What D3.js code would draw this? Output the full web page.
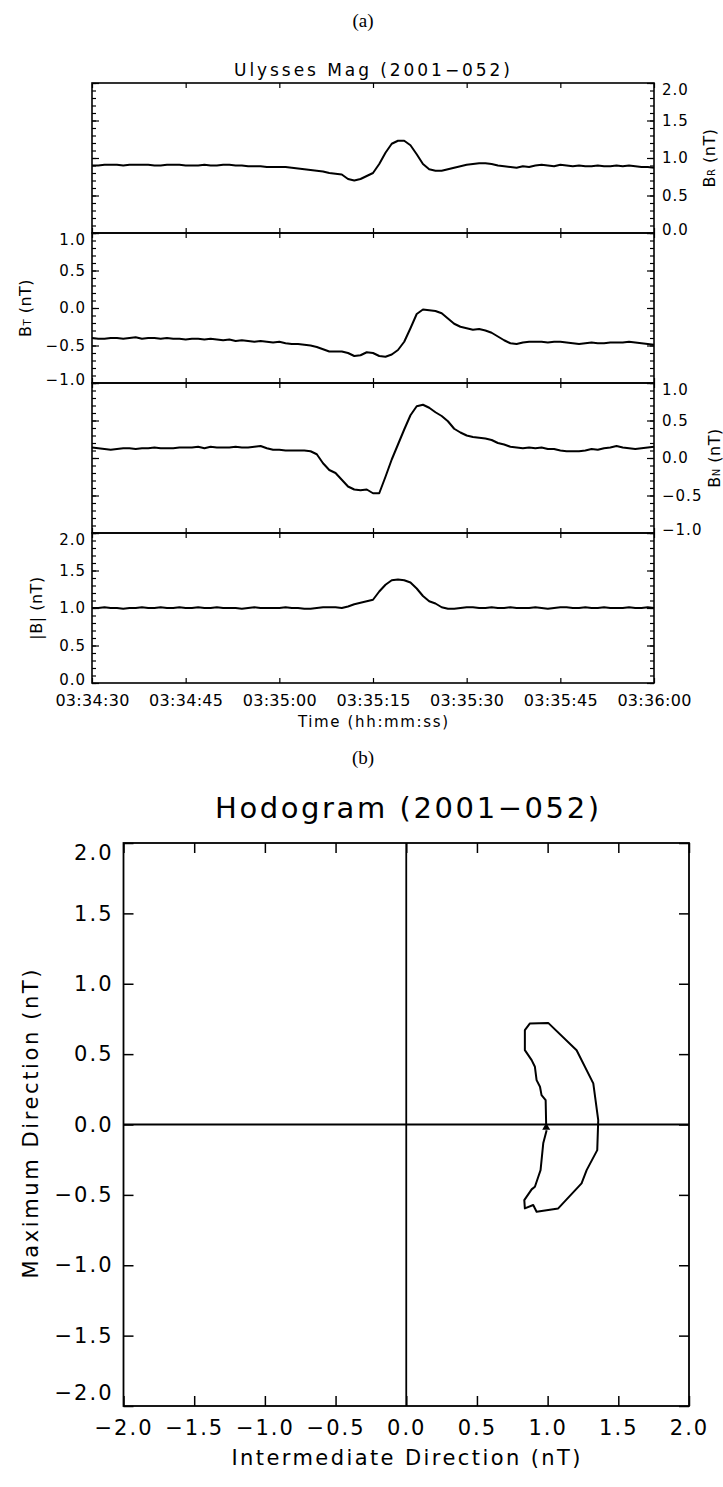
<!DOCTYPE html>
<html>
<head>
<meta charset="utf-8">
<script src="https://cdn.jsdelivr.net/npm/d3@7"></script>
<style>
  html, body { margin: 0; padding: 0; background: #fff; }
  svg { display: block; }
  text { font-family: "DejaVu Sans", sans-serif; fill: #000; }
</style>
</head>
<body>
<script>
// ---------------- DATA ----------------
// time-series panel (a): samples every 1 s from 03:34:30 to 03:36:00
const startTime = "03:34:30";
const tickSeconds = [0, 15, 30, 45, 60, 75, 90];
const timeTickLabels = ["03:34:30", "03:34:45", "03:35:00", "03:35:15", "03:35:30", "03:35:45", "03:36:00"];

const bR = [0.90,0.90,0.91,0.91,0.91,0.90,0.91,0.91,0.91,0.91,
            0.90,0.90,0.91,0.91,0.91,0.90,0.90,0.90,0.91,0.90,
            0.90,0.91,0.91,0.90,0.90,0.89,0.89,0.89,0.88,0.88,
            0.88,0.88,0.87,0.86,0.85,0.84,0.83,0.82,0.80,0.79,
            0.78,0.72,0.70,0.72,0.76,0.80,0.92,1.07,1.19,1.23,
            1.23,1.17,1.05,0.92,0.85,0.83,0.83,0.85,0.87,0.89,
            0.91,0.92,0.93,0.93,0.92,0.90,0.89,0.88,0.87,0.89,
            0.88,0.90,0.91,0.90,0.89,0.91,0.90,0.89,0.90,0.89,
            0.89,0.90,0.89,0.89,0.90,0.89,0.90,0.89,0.88,0.88,0.87];

const bT = [-0.40,-0.41,-0.41,-0.40,-0.40,-0.41,-0.40,-0.39,-0.41,-0.40,
            -0.40,-0.41,-0.40,-0.41,-0.41,-0.42,-0.41,-0.41,-0.42,-0.41,
            -0.42,-0.43,-0.42,-0.44,-0.43,-0.44,-0.45,-0.44,-0.45,-0.46,
            -0.45,-0.47,-0.48,-0.48,-0.49,-0.50,-0.52,-0.55,-0.58,-0.58,
            -0.58,-0.60,-0.64,-0.63,-0.59,-0.60,-0.64,-0.65,-0.62,-0.56,
            -0.45,-0.27,-0.08,-0.02,-0.03,-0.04,-0.07,-0.14,-0.21,-0.25,
            -0.27,-0.29,-0.28,-0.30,-0.33,-0.38,-0.43,-0.47,-0.48,-0.46,
            -0.45,-0.45,-0.45,-0.46,-0.45,-0.45,-0.46,-0.47,-0.48,-0.47,
            -0.46,-0.47,-0.47,-0.46,-0.46,-0.46,-0.45,-0.46,-0.47,-0.48,-0.49];

const bN = [0.14,0.13,0.12,0.11,0.12,0.13,0.13,0.12,0.13,0.13,
            0.14,0.13,0.13,0.13,0.14,0.14,0.14,0.15,0.13,0.15,
            0.14,0.14,0.14,0.15,0.14,0.14,0.15,0.16,0.13,0.11,
            0.11,0.10,0.10,0.10,0.10,0.09,0.05,-0.07,-0.16,-0.20,
            -0.29,-0.38,-0.42,-0.43,-0.42,-0.47,-0.47,-0.25,-0.02,0.18,
            0.38,0.57,0.69,0.71,0.67,0.61,0.56,0.49,0.39,0.34,
            0.30,0.28,0.27,0.26,0.24,0.20,0.18,0.15,0.14,0.13,
            0.14,0.13,0.14,0.12,0.12,0.10,0.09,0.09,0.09,0.10,
            0.12,0.11,0.13,0.14,0.16,0.14,0.13,0.12,0.13,0.14,0.15];

const bMag = [1.00,1.00,1.01,1.00,1.00,0.99,1.00,1.00,1.01,1.00,
              1.00,1.01,1.00,1.00,1.01,1.00,1.00,1.01,1.00,1.00,
              1.01,1.00,1.00,1.00,0.99,1.00,1.01,1.00,1.00,1.00,
              1.00,1.01,1.00,1.00,0.99,0.99,1.00,1.01,1.01,1.01,
              1.00,1.02,1.05,1.07,1.09,1.11,1.22,1.31,1.37,1.38,
              1.37,1.34,1.26,1.16,1.09,1.06,1.01,0.99,0.99,1.00,
              1.01,1.01,1.00,1.00,1.01,1.00,1.00,1.01,1.00,1.00,
              1.00,1.01,1.00,0.99,1.00,1.01,1.01,1.00,1.00,1.01,
              1.00,1.00,1.01,1.00,1.00,1.00,1.01,1.00,1.00,1.01,1.00];

const panelYTicks01 = [0.0, 0.5, 1.0, 1.5, 2.0];
const panelYTicksPm = [-1.0, -0.5, 0.0, 0.5, 1.0];

// hodogram panel (b)
const hodoInt = [0.99,0.986,0.957,0.946,0.922,0.910,0.887,0.839,0.839,0.875,1.004,1.205,1.323,1.358,1.351,1.276,1.240,1.075,0.922,0.898,0.839,0.835,0.887,0.910,0.934,0.950,0.969,0.993];
const hodoMax = [-0.02,0.173,0.209,0.268,0.315,0.410,0.457,0.528,0.670,0.718,0.722,0.528,0.292,0.031,-0.182,-0.324,-0.418,-0.596,-0.620,-0.572,-0.596,-0.537,-0.461,-0.442,-0.371,-0.324,-0.134,-0.040];
const hodoTicks = [-2.0,-1.5,-1.0,-0.5,0.0,0.5,1.0,1.5,2.0];

// ---------------- DRAW ----------------
const W = 723, H = 1487;
const svg = d3.select("body").append("svg").attr("width", W).attr("height", H);
svg.append("rect").attr("width", W).attr("height", H).attr("fill", "#fff");

const fmt = d3.format(".1f");

// labels (a) (b)
svg.append("text").attr("x", 363).attr("y", 27).attr("text-anchor", "middle")
  .style("font-family", "'Liberation Serif', serif").style("font-size", "19px").text("(a)");
svg.append("text").attr("x", 363).attr("y", 764).attr("text-anchor", "middle")
  .style("font-family", "'Liberation Serif', serif").style("font-size", "19px").text("(b)");

// ---- panel (a)
const X0 = 92, X1 = 654, PTOP = 83, PH = 150;
const x = d3.scaleLinear().domain([0, 90]).range([X0, X1]);
const seconds = d3.range(bR.length);

svg.append("text").attr("x", 372).attr("y", 76).attr("text-anchor", "middle")
  .style("font-size", "17px").attr("textLength", 276).attr("lengthAdjust", "spacing")
  .text("Ulysses Mag (2001\u2212052)");

const panels = [
  { values: bR, domain: [0, 2], ticks: panelYTicks01, side: "right", main: "B", sub: "R", lx: 709 },
  { values: bT, domain: [-1, 1], ticks: panelYTicksPm, side: "left", main: "B", sub: "T", lx: 25 },
  { values: bN, domain: [-1, 1], ticks: panelYTicksPm, side: "right", main: "B", sub: "N", lx: 714 },
  { values: bMag, domain: [0, 2], ticks: panelYTicks01, side: "left", main: "|B|", sub: "", lx: 36 }
];

function styleAxis(g, tickW) {
  g.select(".domain").remove();
  g.selectAll(".tick line").attr("stroke", "#000").attr("stroke-width", tickW);
}

panels.forEach((p, i) => {
  const top = PTOP + i * PH, bot = top + PH;
  const y = d3.scaleLinear().domain(p.domain).range([bot, top]);
  const g = svg.append("g");

  // minor ticks (0.1)
  const minor = d3.range(p.domain[0] * 10, p.domain[1] * 10 + 1).map(v => v / 10);
  const gmL = g.append("g").attr("transform", `translate(${X0},0)`)
    .call(d3.axisLeft(y).tickValues(minor).tickSize(-4).tickFormat(""));
  styleAxis(gmL, 1.2);
  const gmR = g.append("g").attr("transform", `translate(${X1},0)`)
    .call(d3.axisRight(y).tickValues(minor).tickSize(-4).tickFormat(""));
  styleAxis(gmR, 1.2);

  // major y ticks
  const left = d3.axisLeft(y).tickValues(p.ticks).tickSize(-7).tickPadding(6)
    .tickFormat(p.side === "left" ? fmt : "");
  const right = d3.axisRight(y).tickValues(p.ticks).tickSize(-7).tickPadding(8)
    .tickFormat(p.side === "right" ? fmt : "");
  const gl = g.append("g").attr("transform", `translate(${X0},0)`).call(left);
  const gr = g.append("g").attr("transform", `translate(${X1},0)`).call(right);
  [gl, gr].forEach(ga => {
    styleAxis(ga, 1.2);
    ga.selectAll(".tick text")
      .style("font-size", "15px").style("letter-spacing", "1px")
      .attr("transform", d => d === p.domain[1] ? "translate(0,7)" : (d === p.domain[0] ? "translate(0,-3)" : null));
  });

  // x ticks top / bottom (inward)
  const gt = g.append("g").attr("transform", `translate(0,${top})`)
    .call(d3.axisTop(x).tickValues(tickSeconds).tickSize(-5).tickFormat(""));
  styleAxis(gt, 1.2);
  const isLast = i === panels.length - 1;
  const gb = g.append("g").attr("transform", `translate(0,${bot})`)
    .call(d3.axisBottom(x).tickValues(tickSeconds).tickSize(-5).tickPadding(12)
      .tickFormat(isLast ? ((d, k) => timeTickLabels[k]) : ""));
  styleAxis(gb, 1.2);
  gb.selectAll(".tick text").style("font-size", "16px").style("letter-spacing", "0.3px");

  // frame
  g.append("rect").attr("x", X0).attr("y", top).attr("width", X1 - X0).attr("height", PH)
    .attr("fill", "none").attr("stroke", "#000").attr("stroke-width", 1.6);

  // data line
  const line = d3.line().x((d, k) => x(seconds[k])).y(d => y(d));
  g.append("path").datum(p.values).attr("d", line)
    .attr("fill", "none").attr("stroke", "#000").attr("stroke-width", 2).attr("stroke-linejoin", "round");

  // axis title
  const cy = (top + bot) / 2;
  const t = g.append("text").attr("transform", `translate(${p.lx},${cy}) rotate(-90)`)
    .attr("text-anchor", "middle").attr("dominant-baseline", "central")
    .style("font-size", "16px").style("letter-spacing", "0.5px");
  t.append("tspan").text(p.main);
  if (p.sub) t.append("tspan").style("font-size", "10px").attr("dy", 2).text(p.sub);
  t.append("tspan").attr("dy", p.sub ? -2 : 0).text("  (nT)");
});

svg.append("text").attr("x", 373).attr("y", 727).attr("text-anchor", "middle")
  .style("font-size", "15px").attr("textLength", 150).attr("lengthAdjust", "spacing")
  .text("Time (hh:mm:ss)");

// ---- panel (b) hodogram
const HX0 = 123.5, HX1 = 689, HY0 = 843, HY1 = 1406;
const hx = d3.scaleLinear().domain([-2, 2]).range([HX0, HX1]);
const hy = d3.scaleLinear().domain([-2, 2]).range([HY1, HY0]);
const hg = svg.append("g");

svg.append("text").attr("x", 407).attr("y", 818).attr("text-anchor", "middle")
  .style("font-size", "29px").attr("textLength", 384).attr("lengthAdjust", "spacing")
  .text("Hodogram (2001\u2212052)");

const hb = hg.append("g").attr("transform", `translate(0,${HY1})`)
  .call(d3.axisBottom(hx).tickValues(hodoTicks).tickSize(-10).tickPadding(14).tickFormat(fmt));
const hl = hg.append("g").attr("transform", `translate(${HX0},0)`)
  .call(d3.axisLeft(hy).tickValues(hodoTicks).tickSize(-10).tickPadding(10).tickFormat(fmt));
const ht = hg.append("g").attr("transform", `translate(0,${HY0})`)
  .call(d3.axisTop(hx).tickValues(hodoTicks).tickSize(-10).tickFormat(""));
const hr = hg.append("g").attr("transform", `translate(${HX1},0)`)
  .call(d3.axisRight(hy).tickValues(hodoTicks).tickSize(-10).tickFormat(""));
[hb, hl, ht, hr].forEach(a => styleAxis(a, 1.5));
hb.selectAll(".tick text").style("font-size", "21px").style("letter-spacing", "2px");
hl.selectAll(".tick text").style("font-size", "21px").style("letter-spacing", "2px")
  .attr("transform", d => d === 2 ? "translate(0,10)" : (d === -2 ? "translate(0,-13)" : null));

hg.append("rect").attr("x", HX0).attr("y", HY0).attr("width", HX1 - HX0).attr("height", HY1 - HY0)
  .attr("fill", "none").attr("stroke", "#000").attr("stroke-width", 1.8);
hg.append("line").attr("x1", hx(0)).attr("x2", hx(0)).attr("y1", HY0).attr("y2", HY1)
  .attr("stroke", "#000").attr("stroke-width", 1.8);
hg.append("line").attr("x1", HX0).attr("x2", HX1).attr("y1", hy(0)).attr("y2", hy(0))
  .attr("stroke", "#000").attr("stroke-width", 1.8);

const hline = d3.line().x((d, k) => hx(hodoInt[k])).y((d, k) => hy(hodoMax[k]));
hg.append("path").datum(hodoInt).attr("d", hline)
  .attr("fill", "none").attr("stroke", "#000").attr("stroke-width", 2).attr("stroke-linejoin", "round");
hg.append("path").attr("d", d3.symbol(d3.symbolTriangle).size(28)())
  .attr("transform", `translate(${hx(hodoInt[0])},${hy(hodoMax[0])})`).attr("fill", "#000");

svg.append("text").attr("x", 406).attr("y", 1465).attr("text-anchor", "middle")
  .style("font-size", "21px").attr("textLength", 349).attr("lengthAdjust", "spacing")
  .text("Intermediate Direction (nT)");
svg.append("text").attr("transform", `translate(31,1124) rotate(-90)`)
  .attr("text-anchor", "middle").attr("dominant-baseline", "central")
  .style("font-size", "21px").attr("textLength", 309).attr("lengthAdjust", "spacing")
  .text("Maximum Direction (nT)");
</script>
</body>
</html>
